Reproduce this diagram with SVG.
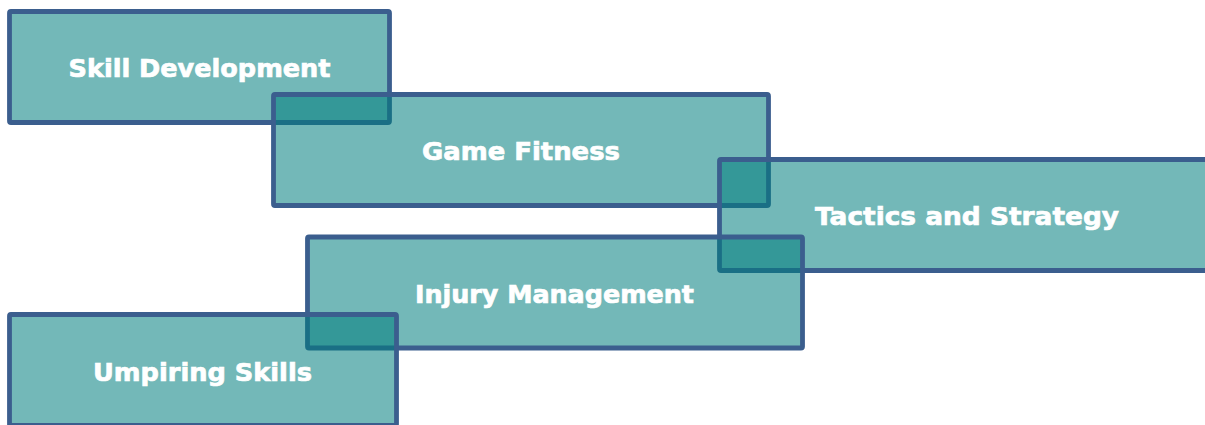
<svg xmlns="http://www.w3.org/2000/svg" width="1205" height="425" viewBox="0 0 1205 425">
<style>
.box{fill:#007E7E;fill-opacity:0.55;stroke:#3B5E8E;stroke-width:4.8;stroke-linejoin:round}
.lbl{font-family:"DejaVu Sans",sans-serif;font-weight:bold;font-size:25px;fill:#FFFFFF;stroke:#FFFFFF;stroke-width:0.7;text-anchor:middle;dominant-baseline:central}
</style>
<rect width="1205" height="425" fill="#FFFFFF"/>
<g id="connectors"></g>
<g id="skill-development">
<rect class="box" x="9.5" y="11.5" width="380" height="111" rx="1.5"/>
<text class="lbl" x="199.5" y="68.5" textLength="262" lengthAdjust="spacingAndGlyphs">Skill Development</text>
</g>
<g id="game-fitness">
<rect class="box" x="273.5" y="94.5" width="495" height="111" rx="1.5"/>
<text class="lbl" x="521" y="151.5" textLength="198" lengthAdjust="spacingAndGlyphs">Game Fitness</text>
</g>
<g id="tactics-and-strategy">
<rect class="box" x="719.5" y="159.5" width="495" height="111" rx="1.5"/>
<text class="lbl" x="967" y="216.5" textLength="304" lengthAdjust="spacingAndGlyphs">Tactics and Strategy</text>
</g>
<g id="injury-management">
<rect class="box" x="307.5" y="237" width="495" height="111" rx="1.5"/>
<text class="lbl" x="554.5" y="294.5" textLength="279" lengthAdjust="spacingAndGlyphs">Injury Management</text>
</g>
<g id="umpiring-skills">
<rect class="box" x="9.5" y="314.5" width="387" height="111" rx="1.5"/>
<text class="lbl" x="202.5" y="372.5" textLength="219" lengthAdjust="spacingAndGlyphs">Umpiring Skills</text>
</g>
</svg>
